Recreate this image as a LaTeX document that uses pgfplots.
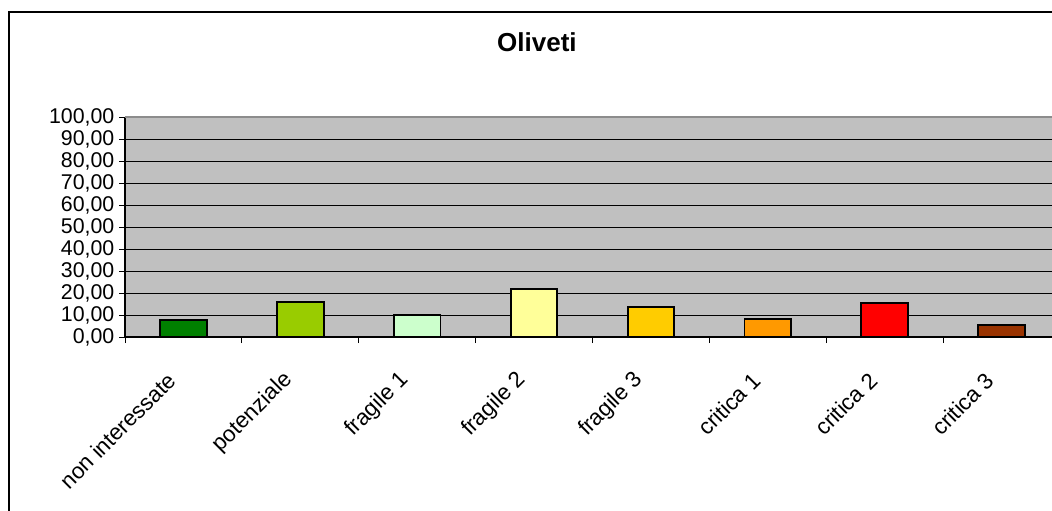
\documentclass[border=0pt]{standalone}
\usepackage{fontspec}
\setmainfont{Liberation Sans}
\usepackage{pgfplots}
\pgfplotsset{compat=1.18}

\definecolor{plotbg}{HTML}{C0C0C0}
\definecolor{cNonInt}{HTML}{008000}
\definecolor{cPot}{HTML}{99CC00}
\definecolor{cFrag1}{HTML}{CCFFCC}
\definecolor{cFrag2}{HTML}{FFFF99}
\definecolor{cFrag3}{HTML}{FFCC00}
\definecolor{cCrit1}{HTML}{FF9900}
\definecolor{cCrit2}{HTML}{FF0000}
\definecolor{cCrit3}{HTML}{993300}

\begin{document}
\begin{tikzpicture}
% chart area frame
\draw[line width=1.1pt, black] (6.75pt,-9pt) rectangle (798.75pt,-420pt);
\begin{axis}[
  at={(93.75pt,-252.75pt)}, anchor=south west,
  scale only axis, width=701.25pt, height=165pt,
  xmin=-0.5, xmax=7.5, ymin=0, ymax=100,
  axis lines=left,
  axis line style={-, line width=0.9pt, black},
  axis background/.style={fill=plotbg},
  ymajorgrids,
  grid style={black, line width=0.75pt},
  ytick={0,10,...,100},
  xtick={0,...,7},
  xticklabels={non interessate, potenziale, fragile 1, fragile 2, fragile 3, critica 1, critica 2, critica 3},
  minor xtick={-0.5,0.5,...,7.5},
  every major x tick/.append style={draw=none},
  tick align=outside,
  major tick length=4.5pt, minor tick length=4.5pt,
  tick style={black, line width=0.75pt},
  tick label style={font=\fontsize{16}{19}\selectfont, black},
  xticklabel style={font=\fontsize{16.8}{20}\selectfont, xshift=-8.5pt, yshift=-25pt, rotate=45, anchor=east, inner sep=0pt},
  /pgf/number format/fixed,
  /pgf/number format/fixed zerofill,
  /pgf/number format/precision=2,
  /pgf/number format/use comma,
  /pgf/number format/assume math mode=true,
  title={Oliveti},
  title style={at={(axis description cs:0.4406,1.302)}, anchor=center,
    font=\bfseries\fontsize{19.5}{23}\selectfont},
  clip=false,
]
\addplot[ybar, bar width=35pt, bar shift=0pt, fill=cNonInt, draw=black, line width=1.4pt] coordinates {(0,7.9)};
\addplot[ybar, bar width=35pt, bar shift=0pt, fill=cPot,    draw=black, line width=1.4pt] coordinates {(1,15.9)};
\addplot[ybar, bar width=35pt, bar shift=0pt, fill=cFrag1,  draw=black, line width=1.4pt] coordinates {(2,10.0)};
\addplot[ybar, bar width=35pt, bar shift=0pt, fill=cFrag2,  draw=black, line width=1.4pt] coordinates {(3,21.8)};
\addplot[ybar, bar width=35pt, bar shift=0pt, fill=cFrag3,  draw=black, line width=1.4pt] coordinates {(4,13.6)};
\addplot[ybar, bar width=35pt, bar shift=0pt, fill=cCrit1,  draw=black, line width=1.4pt] coordinates {(5,8.0)};
\addplot[ybar, bar width=35pt, bar shift=0pt, fill=cCrit2,  draw=black, line width=1.4pt] coordinates {(6,15.5)};
\addplot[ybar, bar width=35pt, bar shift=0pt, fill=cCrit3,  draw=black, line width=1.4pt] coordinates {(7,5.6)};
% top edge of the plot area in grey
\draw[color=black!45, line width=1.4pt] (axis cs:-0.5,100) -- (axis cs:7.5,100);
\end{axis}
\pgfresetboundingbox
\useasboundingbox (0pt,0pt) rectangle (789pt,-382.5pt);
\end{tikzpicture}
\end{document}
